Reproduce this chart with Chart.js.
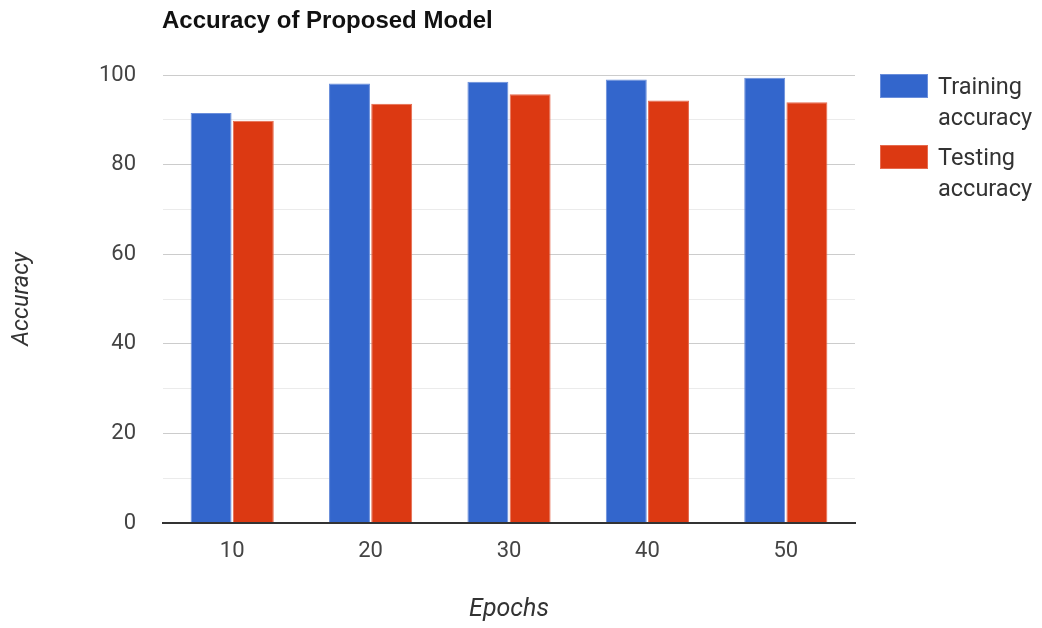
<!DOCTYPE html>
<html>
<head>
<meta charset="utf-8">
<script src="https://cdn.jsdelivr.net/npm/chart.js@4"></script>
<style>
  html, body { margin: 0; padding: 0; background: #fff; }
  #wrap { position: relative; width: 1042px; height: 628px; }
  #legend { position: absolute; left: 880px; top: 71px; font-family: Roboto, sans-serif; font-size: 23.5px; color: #333; }
  .item { position: relative; height: 71px; }
  .swatch { position: absolute; left: 0; top: 3px; width: 48px; height: 24px; box-sizing: border-box; }
  .label { position: absolute; left: 58px; top: 0; width: 110px; line-height: 31px; }
</style>
</head>
<body>
<div id="wrap">
  <canvas id="c" width="1042" height="628"></canvas>
  <div id="legend"></div>
</div>
<script>
const epochs = ['10', '20', '30', '40', '50'];
const trainingAccuracy = [91.5, 98.1, 98.5, 99.0, 99.4];
const testingAccuracy = [89.8, 93.6, 95.7, 94.3, 93.9];
const seriesNames = ['Training accuracy', 'Testing accuracy'];
const seriesColors = ['#3366cc', '#dc3912'];
const seriesEdges = ['#6a8edb', '#e66a4e'];
const yTickValues = [0, 20, 40, 60, 80, 100];

const titlePlugin = {
  id: 'leftTitle',
  afterDraw(chart) {
    const ctx = chart.ctx;
    ctx.save();
    ctx.font = 'bold 24px "Liberation Sans", Arial, sans-serif';
    ctx.fillStyle = '#111';
    ctx.textBaseline = 'alphabetic';
    ctx.textAlign = 'left';
    ctx.fillText('Accuracy of Proposed Model', chart.chartArea.left - 1, 28);
    ctx.restore();
  }
};

const chart = new Chart(document.getElementById('c'), {
  type: 'bar',
  data: {
    labels: epochs,
    datasets: [
      { label: seriesNames[0], data: trainingAccuracy, backgroundColor: seriesColors[0], borderColor: seriesEdges[0], borderWidth: 1 },
      { label: seriesNames[1], data: testingAccuracy, backgroundColor: seriesColors[1], borderColor: seriesEdges[1], borderWidth: 1 }
    ]
  },
  options: {
    responsive: false,
    animation: false,
    layout: { padding: { top: 75, right: 187, left: 0, bottom: 0 } },
    datasets: { bar: { categoryPercentage: 0.61, barPercentage: 0.97 } },
    plugins: {
      legend: { display: false },
      title: { display: false },
      tooltip: { enabled: false }
    },
    scales: {
      x: {
        grid: { display: false, drawTicks: false },
        border: { display: true, color: '#333', width: 2 },
        ticks: { color: '#444', padding: 15, font: { family: 'Roboto', size: 22 } },
        title: {
          display: true, text: 'Epochs', color: '#333',
          font: { family: 'Roboto', size: 25, style: 'italic' },
          padding: { top: 0, bottom: 3 }
        },
        afterFit(scale) { scale.height = 105; }
      },
      y: {
        min: 0, max: 100,
        border: { display: false },
        grid: {
          drawTicks: false,
          color: (c) => c.tick.value === 0 ? '#333' : (yTickValues.includes(c.tick.value) ? '#cccccc' : '#ebebeb'),
          lineWidth: (c) => c.tick.value === 0 ? 2 : 1
        },
        ticks: {
          stepSize: 10,
          color: '#444',
          padding: 27,
          font: { family: 'Roboto', size: 22 },
          callback: (v) => yTickValues.includes(v) ? String(v) : ''
        },
        title: {
          display: true, text: 'Accuracy', color: '#333',
          font: { family: 'Roboto', size: 23.5, style: 'italic' },
          padding: { top: 8, bottom: 0 }
        },
        afterFit(scale) { scale.width = 163; }
      }
    }
  },
  plugins: [titlePlugin]
});

// Legend built from the dataset labels and colours
const legend = document.getElementById('legend');
chart.data.datasets.forEach((ds) => {
  const item = document.createElement('div');
  item.className = 'item';
  const sw = document.createElement('div');
  sw.className = 'swatch';
  sw.style.background = ds.backgroundColor;
  sw.style.border = '1px solid ' + ds.borderColor;
  const lb = document.createElement('div');
  lb.className = 'label';
  lb.textContent = ds.label;
  item.appendChild(sw);
  item.appendChild(lb);
  legend.appendChild(item);
});
</script>
</body>
</html>
